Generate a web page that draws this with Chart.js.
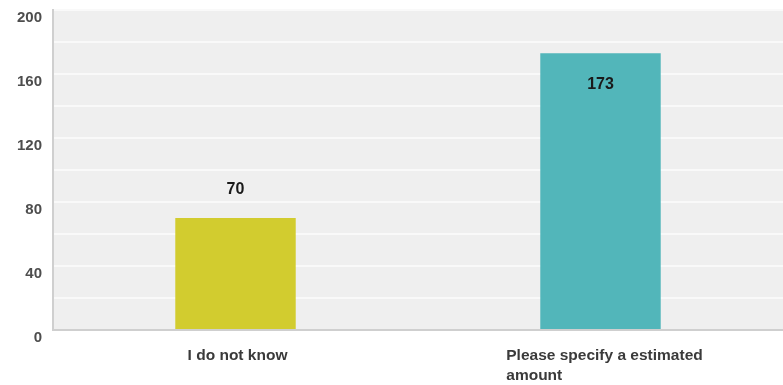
<!DOCTYPE html>
<html>
<head>
<meta charset="utf-8">
<script src="https://cdn.jsdelivr.net/npm/chart.js@4"></script>
<style>
  body { margin: 0; background: #fff; }
  #wrap { width: 783px; height: 385px; }
</style>
</head>
<body>
<div id="wrap"><canvas id="grafico"></canvas></div>
<script>
// dados do gráfico
const categorias = ['I do not know', 'Please specify a estimated amount'];
const linhasRotulo = [['I do not know'], ['Please specify a estimated', 'amount']];
const valores = [70, 173];
const cores = ['#d2cc2f', '#52b6ba'];
const posicaoValor = ['above', 'inside']; // onde escrever o número de cada barra

const fonteTexto = 'Liberation Sans, Arial, sans-serif';

// pinta o fundo cinza da área do gráfico
const fundo = {
  id: 'fundo',
  beforeDraw(chart) {
    const { ctx, chartArea: a } = chart;
    ctx.save();
    ctx.fillStyle = '#efefef';
    ctx.fillRect(a.left, a.top, a.right - a.left, a.bottom - a.top);
    ctx.restore();
  }
};

// números das barras e rótulos do eixo x (alinhados à esquerda quando quebram)
const textos = {
  id: 'textos',
  afterDraw(chart) {
    const ctx = chart.ctx;
    const meta = chart.getDatasetMeta(0);
    const x = chart.scales.x;
    ctx.save();
    ctx.fillStyle = '#1a1a1a';
    ctx.font = 'bold 16px ' + fonteTexto;
    ctx.textAlign = 'center';
    ctx.textBaseline = 'middle';
    meta.data.forEach((bar, i) => {
      const y = posicaoValor[i] === 'above' ? bar.y - 28 : bar.y + 31;
      ctx.fillText(String(valores[i]), bar.x, y);
    });

    ctx.font = 'bold 15.5px ' + fonteTexto;
    ctx.fillStyle = '#3a3a3a';
    linhasRotulo.forEach((linhas, i) => {
      const cx = x.getPixelForValue(i) + (i === 0 ? 2 : 4);
      const largura = Math.max(...linhas.map(l => ctx.measureText(l).width));
      const esquerda = cx - largura / 2;
      ctx.textAlign = 'left';
      linhas.forEach((l, j) => {
        ctx.fillText(l, esquerda, 356 + j * 20);
      });
    });
    ctx.restore();
  }
};

new Chart(document.getElementById('grafico'), {
  type: 'bar',
  data: {
    labels: categorias,
    datasets: [{
      data: valores,
      backgroundColor: cores,
      barPercentage: 0.33,
      categoryPercentage: 1
    }]
  },
  options: {
    responsive: true,
    maintainAspectRatio: false,
    animation: false,
    layout: { padding: { top: 10, right: 0, left: 0, bottom: 0 } },
    plugins: {
      legend: { display: false },
      tooltip: { enabled: false }
    },
    scales: {
      x: {
        grid: { display: false, drawTicks: false },
        border: { color: '#cfcfcf', width: 2 },
        ticks: { display: false },
        afterFit(scale) { scale.height = 55; }
      },
      y: {
        min: 0,
        max: 200,
        grid: { color: '#f9f9f9', lineWidth: 2, drawTicks: false },
        border: { color: '#cfcfcf', width: 2 },
        ticks: {
          stepSize: 20,
          padding: 11,
          labelOffset: 8,
          color: '#4d4d4d',
          font: { family: fonteTexto, size: 15, weight: 'bold' },
          callback: v => (v % 40 === 0 ? v : '')
        },
        afterFit(scale) {
          scale.width = 53;
          scale.paddingTop = 0;
          scale.paddingBottom = 0;
        }
      }
    }
  },
  plugins: [fundo, textos]
});
</script>
</body>
</html>
